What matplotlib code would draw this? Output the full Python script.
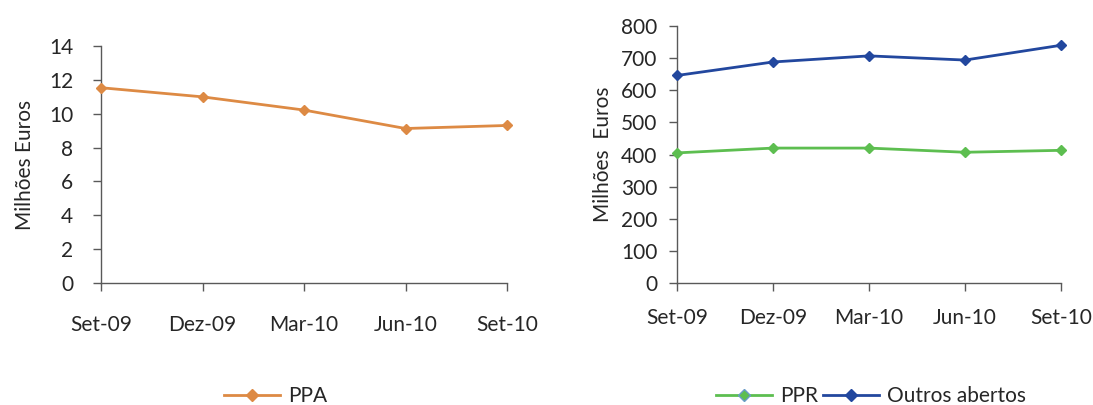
import matplotlib
matplotlib.use("Agg")
import matplotlib.pyplot as plt
from matplotlib.lines import Line2D

plt.rcParams['font.family'] = ['Lato', 'DejaVu Sans']

quarters = ["Set-09", "Dez-09", "Mar-10", "Jun-10", "Set-10"]
ppa = [11.54, 11.0, 10.22, 9.13, 9.31]
ppr = [405, 420, 420, 407, 413]
outros_abertos = [646, 688, 707, 694, 740]

ORANGE = "#DD8A44"
GREEN = "#5DBE50"
BLUE = "#22479E"
AXIS = "#595959"
TEXT = "#262626"
FS = 15

fig = plt.figure(figsize=(10.93, 4.05), dpi=100)
ax1 = fig.add_axes([0.0924, 0.3012, 0.3715, 0.585])
ax2 = fig.add_axes([0.6194, 0.3012, 0.3513, 0.6346])


def style(ax, ylim, step, label, ypad, xpad, lpad):
    x = range(len(quarters))
    ax.set_xlim(0, len(quarters) - 1)
    ax.set_ylim(*ylim)
    ax.set_yticks(range(ylim[0], ylim[1] + 1, step))
    ax.set_xticks(list(x))
    ax.set_xticklabels(quarters)
    for s in ("top", "right"):
        ax.spines[s].set_visible(False)
    for s in ("left", "bottom"):
        ax.spines[s].set_color(AXIS)
        ax.spines[s].set_linewidth(1.0)
        ax.spines[s].set_clip_on(False)
    ax.tick_params(axis="y", direction="out", length=6, width=1, color=AXIS,
                   labelsize=FS, labelcolor=TEXT, pad=ypad)
    ax.tick_params(axis="x", direction="out", length=6, width=1, color=AXIS,
                   labelsize=FS, labelcolor=TEXT, pad=xpad)
    ax.set_ylabel(label, fontsize=FS, color=TEXT, labelpad=lpad)


style(ax1, (0, 14), 2, "Milhões Euros", ypad=14, xpad=17, lpad=10)
style(ax2, (0, 800), 100, "Milhões  Euros", ypad=8, xpad=12, lpad=6)

x = list(range(len(quarters)))
ax1.plot(x, ppa, color=ORANGE, lw=2, marker="D", ms=5.5, clip_on=False, zorder=3)
ax2.plot(x, ppr, color=GREEN, lw=2, marker="D", ms=5.5, clip_on=False, zorder=3)
ax2.plot(x, outros_abertos, color=BLUE, lw=2, marker="D", ms=5.5, clip_on=False, zorder=3)

h1 = [Line2D([], [], color=ORANGE, lw=2, marker="D", ms=6.5)]
fig.legend(h1, ["PPA"], loc="center", bbox_to_anchor=(0.252, 0.022),
           frameon=False, fontsize=FS, handlelength=2.7, handletextpad=0.4,
           labelcolor=TEXT)
h2 = [Line2D([], [], color=GREEN, lw=2, marker="D", ms=6.5, markeredgecolor="#6A9BC8"),
      Line2D([], [], color=BLUE, lw=2, marker="D", ms=6.5)]
fig.legend(h2, ["PPR", "Outros abertos"], loc="center", bbox_to_anchor=(0.797, 0.022),
           ncol=2, frameon=False, fontsize=FS, handlelength=2.7, handletextpad=0.4,
           columnspacing=0.2, labelcolor=TEXT)

fig.savefig("out.png", dpi=100)
